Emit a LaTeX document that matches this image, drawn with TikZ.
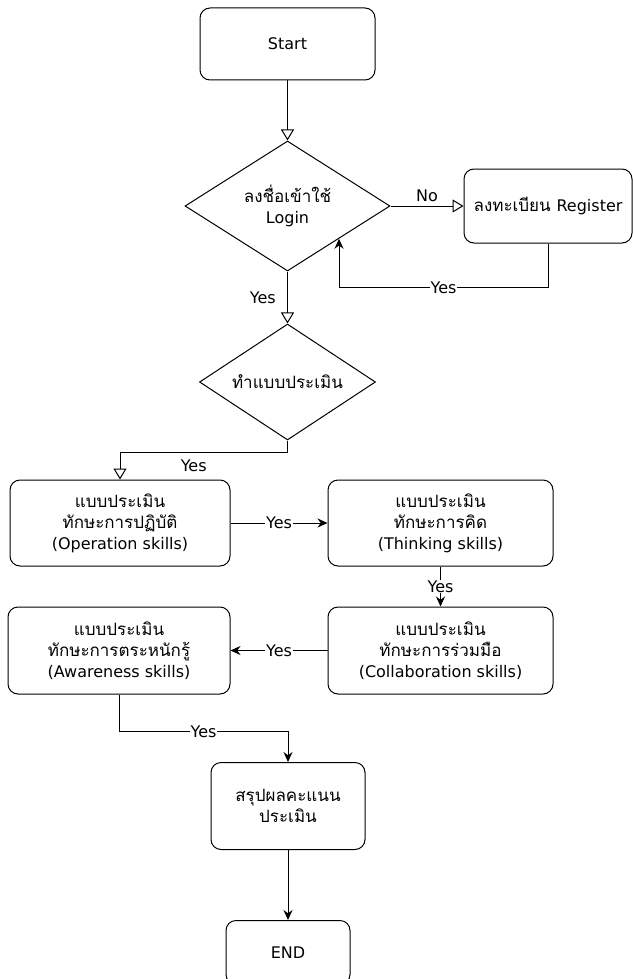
\documentclass[tikz,border=0pt]{standalone}
\usepackage{fontspec}
\newfontfamily\thaifont[Script=Thai]{Loma}
\newfontfamily\latinfont{DejaVu Sans}
\newcommand{\en}[1]{{\latinfont\fontsize{16}{21}\selectfont #1}}
\usetikzlibrary{shapes,arrows.meta,positioning}

\begin{document}
\begin{tikzpicture}[
    x=1pt, y=1pt,
    node distance=60pt,
    font=\thaifont\fontsize{17}{21}\selectfont,
    box/.style={rectangle, draw, rounded corners=10pt, align=center, inner sep=0pt, line width=1pt},
    decision/.style={diamond, aspect=1.5, draw, align=center, inner sep=0pt, line width=1pt},
    arrow/.style={-{Triangle[open,length=11pt,width=13pt]}, line width=1pt},
    solidarrow/.style={-{Stealth[length=10pt,width=9pt]}, line width=1pt},
    lbl/.style={fill=white, inner sep=1pt}
]
    \useasboundingbox (0,0) rectangle (632,-979);

    \node[box, minimum width=175pt, minimum height=72pt] (start) at (287.5,-44) {\en{Start}};
    \node[decision, minimum width=205pt, minimum height=130pt, below=60pt of start] (login) {ลงชื่อเข้าใช้\\\en{Login}};
    \node[box, minimum width=168pt, minimum height=74pt, right=73pt of login] (register) {ลงทะเบียน \en{Register}};
    \node[decision, minimum width=176pt, minimum height=116pt, below=52pt of login] (check) {ทำแบบประเมิน};

    \node[box, minimum width=220pt, minimum height=86pt] (operation) at (120,-523) {แบบประเมิน\\ทักษะการปฏิบัติ\\\en{(Operation skills)}};
    \node[box, minimum width=225pt, minimum height=86pt, right=97pt of operation] (thinking) {แบบประเมิน\\ทักษะการคิด\\\en{(Thinking skills)}};
    \node[box, minimum width=225pt, minimum height=87pt, below=40pt of thinking] (collab) {แบบประเมิน\\ทักษะการร่วมมือ\\\en{(Collaboration skills)}};
    \node[box, minimum width=222pt, minimum height=87pt, left=97pt of collab] (aware) {แบบประเมิน\\ทักษะการตระหนักรู้\\\en{(Awareness skills)}};

    \node[box, minimum width=154pt, minimum height=87pt] (summary) at (288,-806) {สรุปผลคะแนน\\ประเมิน};
    \node[box, minimum width=124pt, minimum height=64pt, below=70pt of summary] (finish) {\en{END}};

    \draw[arrow] (start) -- (login);
    \draw[arrow] (login) -- (register) node[midway,above] {\en{No}};
    \draw[solidarrow] (register.south) -- ++(0,-44) -| (login.south east) node[pos=0.25,lbl] {\en{Yes}};
    \draw[arrow] (login) -- (check) node[midway,left=8pt] {\en{Yes}};
    \draw[arrow] (check.south) -- ++(0,-12) -| (operation.north) node[pos=0.28,below=3pt] {\en{Yes}};
    \draw[solidarrow] (operation) -- (thinking) node[midway,lbl] {\en{Yes}};
    \draw[solidarrow] (thinking) -- (collab) node[midway,lbl] {\en{Yes}};
    \draw[solidarrow] (collab) -- (aware) node[midway,lbl] {\en{Yes}};
    \draw[solidarrow] (aware.south) -- ++(0,-37) -| (summary.north) node[pos=0.25,lbl] {\en{Yes}};
    \draw[solidarrow] (summary) -- (finish);
\end{tikzpicture}
\end{document}
